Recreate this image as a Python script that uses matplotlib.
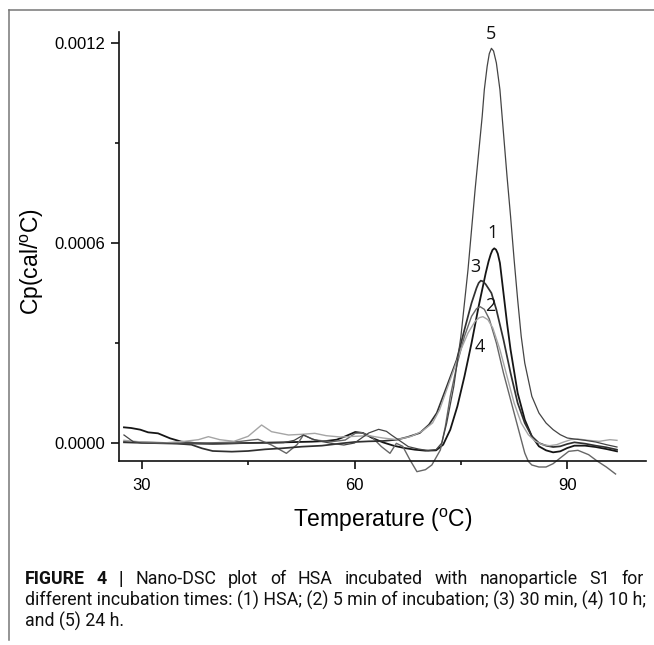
import matplotlib
matplotlib.use("Agg")
import matplotlib.pyplot as plt
import numpy as np
from matplotlib import font_manager
from matplotlib.lines import Line2D

# ---------------- data (Temperature in degC, Cp in 1e-6 cal/degC) ----------------
t1 = [27.5, 28.5, 29.8, 30.9, 32.3, 34.0, 35.6, 37.5, 40, 42.5, 45, 47.5, 50, 52, 54, 56, 57.5, 58.7,
      60.1, 61.2, 62.5, 64, 65.5, 67, 68.5, 70, 71.5, 72.5, 73.5, 74.5, 75.5, 76.5, 77.5, 78.5, 78.9,
      79.2, 79.45, 79.7, 79.95, 80.2, 80.5, 81, 81.5, 82, 83, 84, 85, 86, 87, 88, 89, 90, 91, 92.5, 94,
      95.5, 97]
cp1 = [47, 45, 40, 32, 29, 14, 4, 0, -2, -1, 0, 1, 2, 3, 4, 6, 10, 20,
       33, 30, 15, 2, -8, -15, -20, -23, -22, -5, 40, 110, 200, 300, 410, 510, 545,
       566, 579, 584, 580, 568, 540, 450, 360, 280, 150, 70, 20, -10, -22, -28, -25, -15, -8, -8, -12,
       -18, -25]

t2 = [27.5, 30, 33, 36, 39, 42, 44, 45.5, 46.4, 48.3, 50.4, 51.9, 52.8, 54.4, 56.8, 58.7, 60.1, 61,
      62.4, 63.8, 65, 65.9, 66.8, 67.8, 68.8, 70, 70.9, 72.1, 72.8, 73.5, 74.5, 75.5, 76.5, 77.2, 77.7,
      78.3, 79, 80, 81, 82, 83, 83.5, 84, 84.5, 85, 86, 87, 88, 89, 90.2, 91.5, 93, 94.2, 95.5, 96.8]
cp2 = [5, 3, 1, 0, 0, 2, 5, 9, 11, -6, -31, -5, 24, 9, 4, 9, 29, 31,
       19, -11, -31, -1, -10, -50, -86, -80, -66, -21, 49, 140, 240, 320, 380, 403, 409,
       401, 372, 300, 210, 130, 50, 10, -30, -55, -66, -72, -72, -62, -45, -25, -22, -35, -54, -72, -93]

t3 = [27.5, 29, 31, 33, 35, 37, 38.5, 40, 42.7, 45, 47.4, 49.7, 52.6, 55.4, 58.2, 60, 62, 64, 66,
      67.5, 69.2, 70.5, 71.6, 73, 74.4, 75.5, 76.5, 77.2, 77.5, 77.8, 78.1, 78.5, 79.3, 80, 81, 82, 83,
      84, 85, 86, 87, 88, 89, 90, 91, 92.5, 94, 95.5, 97]
cp3 = [2, 1, 0, -1, -2, -5, -16, -24, -26, -24, -19, -16, -11, -8, -1, 3, 5, 6, 10,
       18, 30, 55, 90, 169, 249, 340, 420, 465, 480, 487, 485, 476, 450, 400, 310, 210, 120,
       60, 20, 0, -8, -12, -10, -3, 2, -2, -8, -13, -20]

t4 = [27.5, 30, 33, 36, 38, 39.4, 41, 43, 45, 46.9, 48.3, 50.7, 52.5, 54.4, 56, 58, 60, 62, 64, 66,
      68, 69.5, 71, 72, 73, 74, 75, 76, 77, 77.6, 78.1, 78.8, 79.5, 80.5, 81.5, 82.5, 83.5, 84.5,
      85.5, 86.5, 87.5, 88.5, 89.5, 90.5, 91.5, 93, 94.5, 96, 97]
cp4 = [8, 3, 0, 5, 10, 19, 10, 5, 20, 54, 34, 24, 26, 29, 22, 18, 20, 22, 15, 10,
       20, 35, 60, 100, 160, 220, 280, 330, 365, 376, 379, 370, 345, 280, 200, 120, 60, 25,
       5, -5, -8, -5, 3, 10, 12, 8, 5, 10, 8]

t5 = [27.5, 28.8, 30, 32, 34, 36, 38, 40, 42, 44, 46, 48, 50, 51.5, 52.8, 54, 55.5, 57, 58.5, 60,
      61, 62, 63.4, 64.5, 65.2, 66.3, 67.6, 69, 70.4, 71.5, 72.3, 73, 74, 75, 76, 76.5, 77, 77.5, 78,
      78.3, 78.7, 79.0, 79.3, 79.6, 80, 80.5, 81, 81.5, 82, 82.5, 83, 83.5, 84, 85, 86, 87, 88, 89, 90,
      91, 92.5, 94, 95.5, 97]
cp5 = [24, 4, 0, 0, -1, -2, -3, -3, -2, -1, 0, 0, 1, 8, 24, 12, 4, -2, -6, 0,
       15, 30, 41, 35, 24, 8, -11, -18, -23, -20, 0, 60, 170, 320, 520, 640, 760, 870, 980,
       1060, 1130, 1168, 1184, 1176, 1140, 1060, 930, 800, 680, 550, 430, 320, 240, 140, 90, 60, 40, 25, 15,
       12, 8, 3, -5, -12]

curve_labels = ["1", "2", "3", "4", "5"]
label_t = [79.5, 79.1, 77.1, 77.7, 79.3]
label_cp = [629, 411, 529, 289, 1228]

xticks = [30, 60, 90]
xminor = [45, 75]
yticks = [0.0, 0.0006, 0.0012]
yminor = [0.0003, 0.0009]

caption_bold = "FIGURE 4 |"
caption_l1 = "Nano-DSC plot of HSA incubated with nanoparticle S1 for"
caption_l2 = "different incubation times: (1) HSA; (2) 5 min of incubation; (3) 30 min, (4) 10 h;"
caption_l3 = "and (5) 24 h."

# ---------------- figure ----------------
W, H = 654, 645
fig = plt.figure(figsize=(W / 100, H / 100), dpi=100)
plt.rcParams['font.family'] = ['Liberation Sans', 'DejaVu Sans']

def fx(px):
    return px / W

def fy(py):
    return 1 - py / H

ax = fig.add_axes([fx(119), fy(461), fx(645.7) - fx(119), fy(32) - fy(461)])

styles = [("#151515", 1.3), ("#666666", 1.0), ("#303030", 1.25), ("#a5a5a5", 1.0), ("#444444", 0.9)]
series = [(t1, cp1), (t2, cp2), (t3, cp3), (t4, cp4), (t5, cp5)]
for (t, cp), (c, lw) in zip(series, styles):
    ax.plot(t, np.array(cp) * 1e-6, color=c, lw=lw, solid_joinstyle='round', clip_on=False)

for lab, lt, lc in zip(curve_labels, label_t, label_cp):
    ax.text(lt, lc * 1e-6, lab, ha='center', va='center', fontsize=13,
            family=['Open Sans', 'DejaVu Sans'], color='#111111')

ax.set_xlim(26.8, 101.05)
ax.set_ylim(-0.000054, 0.001233)
ax.spines['top'].set_visible(False)
ax.spines['right'].set_visible(False)
for s in ('left', 'bottom'):
    ax.spines[s].set_linewidth(1.2)
    ax.spines[s].set_color('#111111')

ax.set_xticks(xticks)
ax.set_xticks(xminor, minor=True)
ax.set_yticks(yticks)
ax.set_yticks(yminor, minor=True)
ax.set_yticklabels([f"{v:.4f}" for v in yticks])
ax.set_xticklabels([str(v) for v in xticks])
ax.tick_params(which='major', direction='out', length=6, width=1.2, labelsize=12, color='#111111')
ax.tick_params(which='minor', direction='out', length=3, width=1.2, color='#111111')
ax.tick_params(axis='x', pad=6)
ax.tick_params(axis='y', pad=4)

ax.set_xlabel('Temperature ($^{\\mathregular{o}}$C)', fontsize=16.5)
ax.xaxis.set_label_coords(0.5, (461 - 520) / 429)
ax.xaxis.label.set_va('center')
ax.set_ylabel('Cp(cal/$^{\\mathregular{o}}$C)', fontsize=16.5)
ax.yaxis.set_label_coords((32 - 119) / 526.7, (461 - 262) / 429)
ax.yaxis.label.set_va('center')

# frame lines (top and left)
fig.add_artist(Line2D([fx(9), fx(9)], [fy(10), fy(640)], transform=fig.transFigure, color='#777777', lw=1.1))
fig.add_artist(Line2D([fx(9), 1.0], [fy(10), fy(10)], transform=fig.transFigure, color='#777777', lw=1.1))

# caption
names = {f.name for f in font_manager.fontManager.ttflist}
cap_family = 'Liberation Sans Narrow' if 'Liberation Sans Narrow' in names else 'Roboto'
base_size = 10
r = fig.canvas.get_renderer()
probe = fig.text(0, 0, caption_l2, fontsize=base_size, family=cap_family)
w2 = probe.get_window_extent(r).width
probe.remove()
size = base_size * (624 / w2)

# first line justified between x=25 and x=644
words = [(w, 'bold') for w in caption_bold.split()] + [(w, 'normal') for w in caption_l1.split()]
arts = []
for w, wt in words:
    a = fig.text(0, fy(588), w, fontsize=size, fontweight=wt, family=cap_family,
                 va='bottom', ha='left', color='#111111')
    arts.append(a)
widths = [a.get_window_extent(r).width for a in arts]
gap = (644 - 25 - sum(widths)) / (len(arts) - 1)
xpos = 25.0
for a, wd in zip(arts, widths):
    a.set_x(fx(xpos))
    xpos += wd + gap

fig.text(fx(25), fy(609.5), caption_l2, fontsize=size, family=cap_family, va='bottom', ha='left', color='#111111')
fig.text(fx(25), fy(631), caption_l3, fontsize=size, family=cap_family, va='bottom', ha='left', color='#111111')

fig.savefig("out.png", dpi=100)
